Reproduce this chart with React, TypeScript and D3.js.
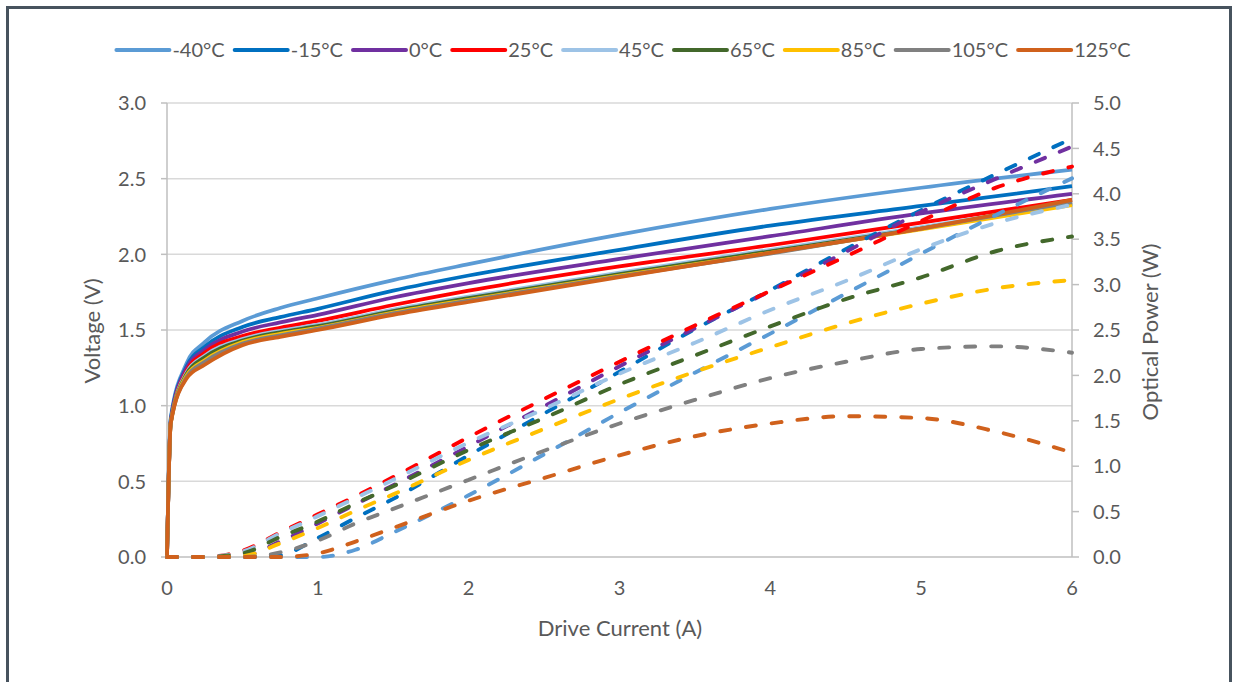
import React, { useEffect, useRef } from 'react';
import * as d3 from 'd3';

// Series: one per case temperature
const temps = ['-40°C', '-15°C', '0°C', '25°C', '45°C', '65°C', '85°C', '105°C', '125°C'];
const colors = ['#5b9bd5', '#0070c0', '#7030a0', '#ff0000', '#9dc3e6', '#43682b', '#ffc000', '#808080', '#d0611c'];

// Forward voltage (V) vs drive current (A)
const voltageCurrent = [0, 0.025, 0.13, 0.25, 0.5, 0.75, 1, 1.5, 2, 3, 4, 5, 6];
const vMinus40 = [0, 0.92, 1.28, 1.42, 1.56, 1.645, 1.71, 1.83, 1.935, 2.13, 2.3, 2.44, 2.56];
const vMinus15 = [0, 0.91, 1.26, 1.39, 1.52, 1.585, 1.64, 1.76, 1.86, 2.03, 2.19, 2.32, 2.45];
const v0 = [0, 0.9, 1.25, 1.37, 1.49, 1.55, 1.6, 1.715, 1.81, 1.97, 2.12, 2.27, 2.4];
const v25 = [0, 0.89, 1.23, 1.35, 1.46, 1.515, 1.56, 1.665, 1.76, 1.92, 2.06, 2.21, 2.36];
const v45 = [0, 0.89, 1.22, 1.33, 1.44, 1.495, 1.535, 1.635, 1.72, 1.88, 2.03, 2.18, 2.34];
const v65 = [0, 0.89, 1.21, 1.32, 1.43, 1.485, 1.525, 1.625, 1.71, 1.87, 2.02, 2.17, 2.335];
const v85 = [0, 0.885, 1.2, 1.3, 1.42, 1.475, 1.515, 1.615, 1.7, 1.86, 2.01, 2.165, 2.325];
const v105 = [0, 0.885, 1.19, 1.29, 1.41, 1.465, 1.51, 1.61, 1.695, 1.855, 2.005, 2.17, 2.345];
const v125 = [0, 0.885, 1.18, 1.27, 1.4, 1.455, 1.5, 1.6, 1.685, 1.85, 2.01, 2.17, 2.36];
const voltages = [vMinus40, vMinus15, v0, v25, v45, v65, v85, v105, v125];

// Optical output power (W) vs drive current (A)
const powerCurrent = [0, 0.25, 0.5, 0.75, 1, 1.25, 1.5, 2, 2.5, 3, 3.5, 4, 4.5, 5, 5.5, 6];
const pMinus40 = [0, 0, 0, 0, 0, 0.08, 0.27, 0.68, 1.13, 1.59, 2.03, 2.46, 2.9, 3.34, 3.77, 4.17];
const pMinus15 = [0, 0, 0, 0.02, 0.21, 0.43, 0.64, 1.12, 1.58, 2.04, 2.51, 2.94, 3.39, 3.82, 4.22, 4.61];
const p0 = [0, 0, 0.01, 0.17, 0.37, 0.58, 0.79, 1.22, 1.66, 2.1, 2.52, 2.93, 3.36, 3.8, 4.17, 4.52];
const p25 = [0, 0, 0.07, 0.27, 0.47, 0.67, 0.88, 1.32, 1.74, 2.15, 2.55, 2.93, 3.31, 3.7, 4.07, 4.3];
const p45 = [0, 0, 0.06, 0.26, 0.45, 0.65, 0.85, 1.26, 1.63, 2.02, 2.36, 2.72, 3.04, 3.39, 3.68, 3.88];
const p65 = [0, 0, 0.04, 0.22, 0.39, 0.59, 0.78, 1.18, 1.53, 1.9, 2.22, 2.54, 2.84, 3.08, 3.37, 3.53];
const p85 = [0, 0, 0.01, 0.15, 0.32, 0.51, 0.69, 1.07, 1.41, 1.74, 2.04, 2.31, 2.57, 2.79, 2.96, 3.05];
const p105 = [0, 0, 0, 0.05, 0.18, 0.37, 0.53, 0.85, 1.17, 1.47, 1.73, 1.97, 2.15, 2.29, 2.32, 2.25];
const p125 = [0, 0, 0, 0, 0.04, 0.17, 0.32, 0.62, 0.87, 1.12, 1.33, 1.47, 1.55, 1.53, 1.38, 1.15];
const powers = [pMinus40, pMinus15, p0, p25, p45, p65, p85, p105, p125];

// Axis ticks
const currentTicks = [0, 1, 2, 3, 4, 5, 6];
const voltageTicks = [0, 0.5, 1, 1.5, 2, 2.5, 3];
const powerTicks = [0, 0.5, 1, 1.5, 2, 2.5, 3, 3.5, 4, 4.5, 5];

const W = 1238;
const H = 682;
const FONT = 'Lato, "Open Sans", sans-serif';
const TEXT = '#595959';

export default function App() {
  const ref = useRef<SVGSVGElement | null>(null);

  useEffect(() => {
    const svg = d3.select(ref.current);
    svg.selectAll('*').remove();

    const plot = { left: 167, right: 1072, top: 103, bottom: 557 };
    const x = d3.scaleLinear().domain([0, 6]).range([plot.left, plot.right]);
    const yV = d3.scaleLinear().domain([0, 3]).range([plot.bottom, plot.top]);
    const yP = d3.scaleLinear().domain([0, 5]).range([plot.bottom, plot.top]);

    svg.append('rect').attr('width', W).attr('height', H).attr('fill', '#fff');
    svg
      .append('rect')
      .attr('x', 7.5)
      .attr('y', 7.5)
      .attr('width', 1223)
      .attr('height', 720)
      .attr('fill', 'none')
      .attr('stroke', '#47535e')
      .attr('stroke-width', 3);

    // horizontal gridlines
    svg
      .append('g')
      .selectAll('line')
      .data(voltageTicks.filter((t) => t > 0))
      .join('line')
      .attr('x1', plot.left)
      .attr('x2', plot.right)
      .attr('y1', (d) => yV(d))
      .attr('y2', (d) => yV(d))
      .attr('stroke', '#d9d9d9')
      .attr('stroke-width', 1.5);

    const axisColor = '#bfbfbf';
    const axes = svg.append('g').attr('stroke', axisColor).attr('stroke-width', 1.5);
    axes.append('line').attr('x1', plot.left).attr('x2', plot.left).attr('y1', plot.top).attr('y2', plot.bottom);
    axes.append('line').attr('x1', plot.right).attr('x2', plot.right).attr('y1', plot.top).attr('y2', plot.bottom);
    axes.append('line').attr('x1', plot.left).attr('x2', plot.right).attr('y1', plot.bottom).attr('y2', plot.bottom);
    axes
      .selectAll('line.lt')
      .data(voltageTicks)
      .join('line')
      .attr('class', 'lt')
      .attr('x1', plot.left - 6)
      .attr('x2', plot.left)
      .attr('y1', (d) => yV(d))
      .attr('y2', (d) => yV(d));
    axes
      .selectAll('line.rt')
      .data(powerTicks)
      .join('line')
      .attr('class', 'rt')
      .attr('x1', plot.right)
      .attr('x2', plot.right + 7)
      .attr('y1', (d) => yP(d))
      .attr('y2', (d) => yP(d));

    const txt = svg.append('g').attr('font-family', FONT).attr('fill', TEXT);
    txt
      .selectAll('text.lv')
      .data(voltageTicks)
      .join('text')
      .attr('class', 'lv')
      .attr('x', 146)
      .attr('y', (d) => yV(d))
      .attr('dy', '0.36em')
      .attr('text-anchor', 'end')
      .attr('font-size', 20)
      .text((d) => d3.format('.1f')(d));
    txt
      .selectAll('text.rp')
      .data(powerTicks)
      .join('text')
      .attr('class', 'rp')
      .attr('x', 1093)
      .attr('y', (d) => yP(d))
      .attr('dy', '0.36em')
      .attr('font-size', 20)
      .text((d) => d3.format('.1f')(d));
    txt
      .selectAll('text.bx')
      .data(currentTicks)
      .join('text')
      .attr('class', 'bx')
      .attr('x', (d) => x(d))
      .attr('y', 588)
      .attr('dy', '0.36em')
      .attr('text-anchor', 'middle')
      .attr('font-size', 20)
      .text((d) => String(d));

    txt
      .append('text')
      .attr('x', 620)
      .attr('y', 628)
      .attr('dy', '0.36em')
      .attr('text-anchor', 'middle')
      .attr('font-size', 22)
      .text('Drive Current (A)');
    txt
      .append('text')
      .attr('transform', 'translate(92,331) rotate(-90)')
      .attr('dy', '0.36em')
      .attr('text-anchor', 'middle')
      .attr('font-size', 22)
      .text('Voltage (V)');
    txt
      .append('text')
      .attr('transform', 'translate(1150,332) rotate(-90)')
      .attr('dy', '0.36em')
      .attr('text-anchor', 'middle')
      .attr('font-size', 22)
      .text('Optical Power (W)');

    // voltage curves (solid)
    const vLine = d3
      .line<number>()
      .x((_, i) => x(voltageCurrent[i]))
      .y((d) => yV(d))
      .curve(d3.curveMonotoneX);
    svg
      .append('g')
      .selectAll('path')
      .data(voltages)
      .join('path')
      .attr('d', (d) => vLine(d))
      .attr('fill', 'none')
      .attr('stroke', (_, i) => colors[i])
      .attr('stroke-width', 3.75)
      .attr('stroke-linejoin', 'round');

    // optical power curves (dashed)
    const pLine = d3
      .line<number>()
      .x((_, i) => x(powerCurrent[i]))
      .y((d) => yP(d))
      .curve(d3.curveMonotoneX);
    svg
      .append('g')
      .selectAll('path')
      .data(powers)
      .join('path')
      .attr('d', (d) => pLine(d))
      .attr('fill', 'none')
      .attr('stroke', (_, i) => colors[i])
      .attr('stroke-width', 3.9)
      .attr('stroke-dasharray', '10 16')
      .attr('stroke-linecap', 'round');

    // legend
    const leg = svg.append('g').attr('font-family', FONT).attr('font-size', 20).attr('fill', TEXT);
    const items = temps.map((t, i) => {
      const g = leg.append('g');
      g.append('line')
        .attr('x1', 0)
        .attr('x2', 53)
        .attr('y1', 0)
        .attr('y2', 0)
        .attr('stroke', colors[i])
        .attr('stroke-width', 4)
        .attr('stroke-linecap', 'round');
      const tx = g.append('text').attr('x', 56).attr('dy', '0.36em').text(t);
      const w = (tx.node() as SVGTextElement).getComputedTextLength();
      return { g, w: 56 + w + 10 };
    });
    const total = d3.sum(items, (d) => d.w) - 10;
    let cx = 623.5 - total / 2;
    items.forEach((it) => {
      it.g.attr('transform', `translate(${cx},50)`);
      cx += it.w;
    });
  }, []);

  return (
    <svg
      ref={ref}
      width={W}
      height={H}
      style={{ position: 'absolute', left: 0, top: 0, display: 'block' }}
    />
  );
}
